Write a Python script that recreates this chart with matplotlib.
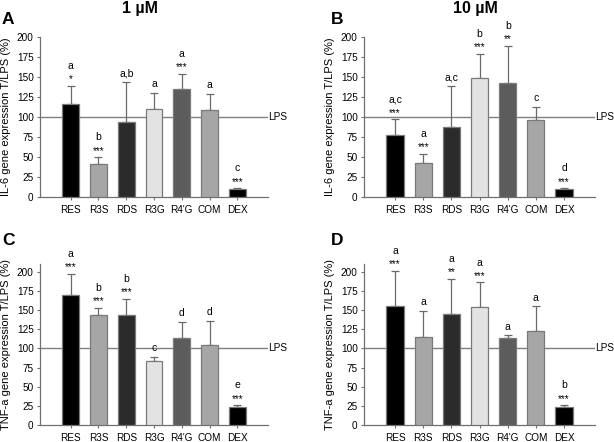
import matplotlib
matplotlib.use("Agg")
import matplotlib.pyplot as plt
import numpy as np

plt.rcParams['font.family'] = ['Liberation Sans', 'DejaVu Sans']

categories = ["RES", "R3S", "RDS", "R3G", "R4'G", "COM", "DEX"]
colors = ["#000000", "#a6a6a6", "#2b2b2b", "#e3e3e3", "#5c5c5c", "#a6a6a6", "#000000"]

# Panel A: IL-6, 1 µM
a_vals = [116, 42, 94, 110, 135, 109, 10]
a_err = [23, 8, 49, 20, 19, 20, 1.5]
a_letters = ["a", "b", "a,b", "a", "a", "a", "c"]
a_stars = ["*", "***", "", "", "***", "", "***"]

# Panel B: IL-6, 10 µM
b_vals = [77, 43, 87, 148, 142, 96, 10]
b_err = [20, 11, 52, 31, 47, 17, 1.5]
b_letters = ["a,c", "a", "a,c", "b", "b", "c", "d"]
b_stars = ["***", "***", "", "***", "**", "", "***"]

# Panel C: TNF-a, 1 µM
c_vals = [169, 143, 143, 83, 114, 105, 23]
c_err = [28, 10, 22, 6, 21, 31, 3]
c_letters = ["a", "b", "b", "c", "d", "d", "e"]
c_stars = ["***", "***", "***", "", "", "", "***"]

# Panel D: TNF-a, 10 µM
d_vals = [155, 115, 145, 154, 114, 123, 23]
d_err = [46, 34, 46, 32, 3, 32, 3]
d_letters = ["a", "a", "a", "a", "a", "a", "b"]
d_stars = ["***", "", "**", "***", "", "", "***"]

yticks_vals = [0, 25, 50, 75, 100, 125, 150, 175, 200]

W, H = 614, 442
fig = plt.figure(figsize=(W / 100, H / 100), dpi=100)

def make_ax(l, r, b, t):
    return fig.add_axes([l / W, 1 - b / H, (r - l) / W, (b - t) / H])

axA = make_ax(40, 268, 197.3, 36.7)
axB = make_ax(364, 595, 197.3, 36.7)
axC = make_ax(40, 268, 425, 264)
axD = make_ax(364, 595, 425, 264)

panels = [
    (axA, a_vals, a_err, a_letters, a_stars, 200, "IL-6 gene expression T/LPS (%)"),
    (axB, b_vals, b_err, b_letters, b_stars, 200, "IL-6 gene expression T/LPS (%)"),
    (axC, c_vals, c_err, c_letters, c_stars, 210, "TNF-a gene expression T/LPS (%)"),
    (axD, d_vals, d_err, d_letters, d_stars, 210, "TNF-a gene expression T/LPS (%)"),
]

axis_col = "#707070"
for ax, vals, err, letters, stars, ytop, ylab in panels:
    x = np.arange(len(categories))
    ax.bar(x, vals, width=0.61, color=colors, edgecolor="#7a7a7a", linewidth=0.9, zorder=3)
    ax.errorbar(x, vals, yerr=[np.zeros(len(err)), err], fmt="none",
                ecolor="#6a6a6a", elinewidth=0.9, capsize=3, capthick=0.9, zorder=2)
    ax.axhline(100, color="#808080", linewidth=1.0, zorder=1)
    ax.set_xlim(-1.1, 7.1)
    ax.set_ylim(0, ytop)
    ax.set_yticks(yticks_vals)
    ax.set_xticks(x)
    ax.set_xticklabels(categories, fontsize=7.2)
    ax.tick_params(axis="y", labelsize=7.2, length=2.5, width=0.8, color=axis_col, pad=2)
    ax.tick_params(axis="x", length=2.5, width=0.8, color=axis_col, pad=3)
    for s in ["top", "right"]:
        ax.spines[s].set_visible(False)
    for s in ["left", "bottom"]:
        ax.spines[s].set_color(axis_col)
        ax.spines[s].set_linewidth(0.9)
    ax.set_ylabel(ylab, fontsize=8, labelpad=4)
    ax.text(1.0, 100, "LPS", transform=ax.get_yaxis_transform(), fontsize=7.2,
            va="center", ha="left")
    for xi, v, e, let, st in zip(x, vals, err, letters, stars):
        top = v + e
        if st:
            ax.annotate(st, (xi, top), xytext=(0, 2.5), textcoords="offset points",
                        ha="center", va="baseline", fontsize=7, annotation_clip=False)
            ax.annotate(let, (xi, top), xytext=(0, 12), textcoords="offset points",
                        ha="center", va="baseline", fontsize=7.5, annotation_clip=False)
        else:
            ax.annotate(let, (xi, top), xytext=(0, 4), textcoords="offset points",
                        ha="center", va="baseline", fontsize=7.5, annotation_clip=False)

fig.text(140 / W, 1 - 9 / H, "1 µM", fontsize=11.5, fontweight="bold", ha="center", va="center")
fig.text(475 / W, 1 - 9 / H, "10 µM", fontsize=11.5, fontweight="bold", ha="center", va="center")
fig.text(2 / W, 1 - 19 / H, "A", fontsize=12.5, fontweight="bold", ha="left", va="center")
fig.text(331 / W, 1 - 19 / H, "B", fontsize=12.5, fontweight="bold", ha="left", va="center")
fig.text(2 / W, 1 - 241 / H, "C", fontsize=12.5, fontweight="bold", ha="left", va="center")
fig.text(331 / W, 1 - 241 / H, "D", fontsize=12.5, fontweight="bold", ha="left", va="center")

fig.savefig("out.png", dpi=100)
